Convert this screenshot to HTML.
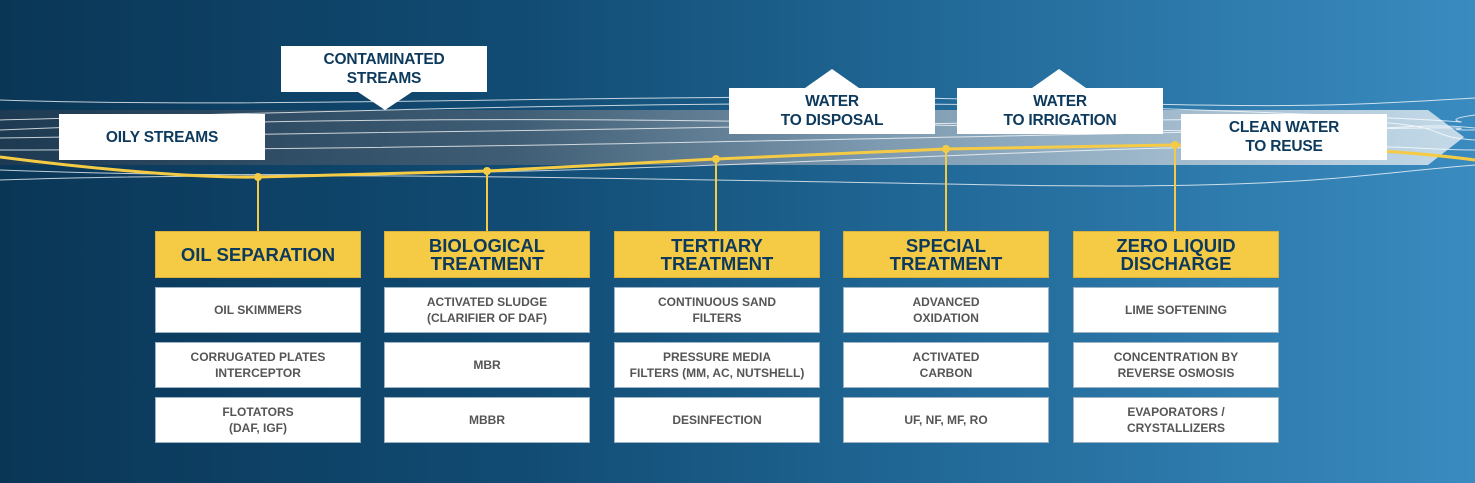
<!DOCTYPE html>
<html><head><meta charset="utf-8"><style>
*{margin:0;padding:0;box-sizing:border-box}
body{width:1475px;height:483px;overflow:hidden;position:relative;font-family:"Liberation Sans",sans-serif;
background:linear-gradient(90deg,#0a3656 0%,#114b73 35%,#226a99 65%,#3a8bc0 100%)}
svg{position:absolute;left:0;top:0}
.b{position:absolute;display:flex;align-items:center;justify-content:center;text-align:center;font-weight:bold}
.lbl{background:#fff;color:#0d3a5c;font-size:15.5px;line-height:19px;width:206px;height:46px;letter-spacing:-0.2px}
.h{background:#f5cb45;color:#0d3a5c;font-size:18.5px;line-height:18px;width:206px;height:47px;border:1px solid #d9b23c}
.i{background:#fff;color:#555;font-size:12px;line-height:16px;width:206px;height:46px;border:1px solid #9bb2c4}
</style></head><body>
<svg width="1475" height="483">
<defs>
<linearGradient id="band" x1="0" x2="1" y1="0" y2="0">
<stop offset="0" stop-color="#1d3a52"/><stop offset="0.35" stop-color="#3f5d74"/><stop offset="0.6" stop-color="#7d9ab0"/><stop offset="1" stop-color="#c4dae9"/>
</linearGradient>
</defs>
<polygon points="0,110 1428,110 1464,137 1428,165 0,165" fill="url(#band)"/>
<g fill="none" stroke="#fff" stroke-width="1" opacity="0.75">
<path d="M0,100 C300,110 700,90 1000,100 S1350,105 1475,98"/>
<path d="M0,120 C400,110 800,95 1200,110 S1400,125 1475,115"/>
<path d="M0,130 C350,115 700,118 1050,128 S1400,120 1475,128"/>
<path d="M0,138 C350,135 800,125 1150,120 S1400,135 1475,140"/>
<path d="M0,150 C400,150 800,140 1200,132 S1400,130 1475,130"/>
<path d="M0,180 C300,170 700,180 1000,185 S1350,175 1475,165"/>
<path d="M0,170 C400,185 800,160 1100,150 S1400,150 1475,150"/>
</g>
<path d="M0,157 C100,170 200,178 258,177 L487,171 L716,159 L946,149 L1175,145 C1300,145 1400,150 1475,160" fill="none" stroke="#f5cb45" stroke-width="3"/>
<g stroke="#f5cb45" stroke-width="2">
<line x1="258" y1="177" x2="258" y2="232"/><line x1="487" y1="171" x2="487" y2="232"/>
<line x1="716" y1="159" x2="716" y2="232"/><line x1="946" y1="149" x2="946" y2="232"/>
<line x1="1175" y1="145" x2="1175" y2="232"/>
</g>
<g fill="#f5cb45"><circle cx="258" cy="177" r="4"/><circle cx="487" cy="171" r="4"/><circle cx="716" cy="159" r="4"/><circle cx="946" cy="149" r="4"/><circle cx="1175" cy="145" r="4"/></g>
<g fill="#fff">
<polygon points="358,92 412,92 385,110"/>
<polygon points="805,88 859,88 832,69"/>
<polygon points="1032,88 1086,88 1059,69"/>
</g>
</svg>
<div class="b lbl" style="left:59px;top:114px">OILY STREAMS</div>
<div class="b lbl" style="left:281px;top:46px">CONTAMINATED<br>STREAMS</div>
<div class="b lbl" style="left:729px;top:88px">WATER<br>TO DISPOSAL</div>
<div class="b lbl" style="left:957px;top:88px">WATER<br>TO IRRIGATION</div>
<div class="b lbl" style="left:1181px;top:114px">CLEAN WATER<br>TO REUSE</div>

<div class="b h" style="left:155px;top:231px">OIL SEPARATION</div>
<div class="b h" style="left:384px;top:231px">BIOLOGICAL<br>TREATMENT</div>
<div class="b h" style="left:614px;top:231px">TERTIARY<br>TREATMENT</div>
<div class="b h" style="left:843px;top:231px">SPECIAL<br>TREATMENT</div>
<div class="b h" style="left:1073px;top:231px">ZERO LIQUID<br>DISCHARGE</div>

<div class="b i" style="left:155px;top:287px">OIL SKIMMERS</div>
<div class="b i" style="left:155px;top:342px">CORRUGATED PLATES<br>INTERCEPTOR</div>
<div class="b i" style="left:155px;top:397px">FLOTATORS<br>(DAF, IGF)</div>

<div class="b i" style="left:384px;top:287px">ACTIVATED SLUDGE<br>(CLARIFIER OF DAF)</div>
<div class="b i" style="left:384px;top:342px">MBR</div>
<div class="b i" style="left:384px;top:397px">MBBR</div>

<div class="b i" style="left:614px;top:287px">CONTINUOUS SAND<br>FILTERS</div>
<div class="b i" style="left:614px;top:342px">PRESSURE MEDIA<br>FILTERS (MM, AC, NUTSHELL)</div>
<div class="b i" style="left:614px;top:397px">DESINFECTION</div>

<div class="b i" style="left:843px;top:287px">ADVANCED<br>OXIDATION</div>
<div class="b i" style="left:843px;top:342px">ACTIVATED<br>CARBON</div>
<div class="b i" style="left:843px;top:397px">UF, NF, MF, RO</div>

<div class="b i" style="left:1073px;top:287px">LIME SOFTENING</div>
<div class="b i" style="left:1073px;top:342px">CONCENTRATION BY<br>REVERSE OSMOSIS</div>
<div class="b i" style="left:1073px;top:397px">EVAPORATORS /<br>CRYSTALLIZERS</div>
</body></html>
